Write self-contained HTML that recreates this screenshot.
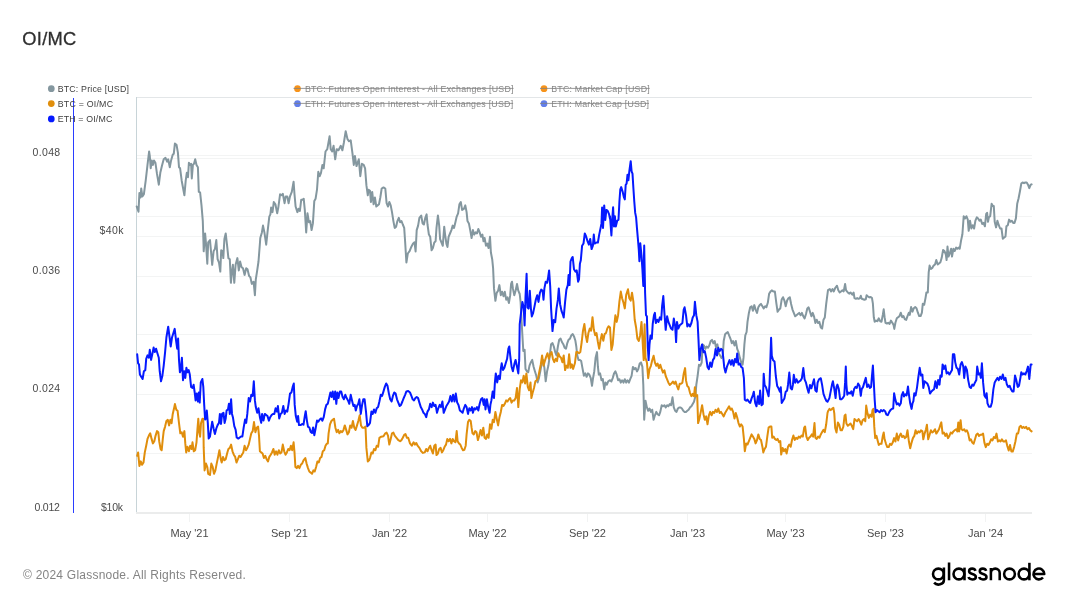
<!DOCTYPE html>
<html><head><meta charset="utf-8"><title>OI/MC</title>
<style>
html,body{margin:0;padding:0;background:#fff;}
body{width:1068px;height:601px;overflow:hidden;font-family:"Liberation Sans",sans-serif;}
svg{display:block;will-change:transform;}
svg text{font-family:"Liberation Sans",sans-serif;}
</style></head><body>
<svg width="1068" height="601" viewBox="0 0 1068 601">
<rect width="1068" height="601" fill="#fff"/>
<text x="22.3" y="44.6" font-size="18.3" letter-spacing="0.3" fill="#2f2f2f" stroke="#2f2f2f" stroke-width="0.3">OI/MC</text>
<g shape-rendering="crispEdges">
<line x1="137" y1="155.5" x2="1032" y2="155.5" stroke="#f3f4f4" stroke-width="1"/><line x1="137" y1="158" x2="1032" y2="158" stroke="#f3f4f4" stroke-width="1"/><line x1="137" y1="216.5" x2="1032" y2="216.5" stroke="#f3f4f4" stroke-width="1"/><line x1="137" y1="236.5" x2="1032" y2="236.5" stroke="#f3f4f4" stroke-width="1"/><line x1="137" y1="276.5" x2="1032" y2="276.5" stroke="#f3f4f4" stroke-width="1"/><line x1="137" y1="334.5" x2="1032" y2="334.5" stroke="#f3f4f4" stroke-width="1"/><line x1="137" y1="375.5" x2="1032" y2="375.5" stroke="#f3f4f4" stroke-width="1"/><line x1="137" y1="394.5" x2="1032" y2="394.5" stroke="#f3f4f4" stroke-width="1"/><line x1="137" y1="453.5" x2="1032" y2="453.5" stroke="#f3f4f4" stroke-width="1"/>
<line x1="136.5" y1="97.5" x2="1032" y2="97.5" stroke="#e3e6e8" stroke-width="1"/>
<line x1="136.5" y1="97" x2="136.5" y2="513" stroke="#c8d4d8" stroke-width="1"/>
<rect x="136" y="512" width="896" height="2" fill="#ebecec"/>
<line x1="189.0" y1="514" x2="189.0" y2="522" stroke="#f2f3f3" stroke-width="1"/><line x1="289.0" y1="514" x2="289.0" y2="522" stroke="#f2f3f3" stroke-width="1"/><line x1="389.0" y1="514" x2="389.0" y2="522" stroke="#f2f3f3" stroke-width="1"/><line x1="487.0" y1="514" x2="487.0" y2="522" stroke="#f2f3f3" stroke-width="1"/><line x1="587.0" y1="514" x2="587.0" y2="522" stroke="#f2f3f3" stroke-width="1"/><line x1="687.0" y1="514" x2="687.0" y2="522" stroke="#f2f3f3" stroke-width="1"/><line x1="785.0" y1="514" x2="785.0" y2="522" stroke="#f2f3f3" stroke-width="1"/><line x1="885.0" y1="514" x2="885.0" y2="522" stroke="#f2f3f3" stroke-width="1"/><line x1="985.0" y1="514" x2="985.0" y2="522" stroke="#f2f3f3" stroke-width="1"/>
<line x1="73.5" y1="98" x2="73.5" y2="513" stroke="#2a3eff" stroke-width="1"/>
</g>
<circle cx="51.3" cy="88.7" r="3.35" fill="#84979f"/><text x="57.7" y="91.80" font-size="8.8" textLength="71.2" lengthAdjust="spacing" fill="#404040">BTC: Price [USD]</text><circle cx="51.3" cy="103.6" r="3.35" fill="#e08e0c"/><text x="57.7" y="106.70" font-size="8.8" textLength="55.3" lengthAdjust="spacing" fill="#404040">BTC = OI/MC</text><circle cx="51.3" cy="118.9" r="3.35" fill="#0519ff"/><text x="57.7" y="122.00" font-size="8.8" textLength="54.6" lengthAdjust="spacing" fill="#404040">ETH = OI/MC</text><circle cx="297.5" cy="88.7" r="3.35" fill="#f7931a"/><text x="304.9" y="91.80" font-size="8.8" textLength="208.6" lengthAdjust="spacing" fill="#878787">BTC: Futures Open Interest - All Exchanges [USD]</text><line x1="293.5" y1="88.40" x2="513.5" y2="88.40" stroke="#808080" stroke-width="0.8"/><circle cx="297.5" cy="103.7" r="3.35" fill="#627eea"/><text x="304.9" y="106.80" font-size="8.8" textLength="208.2" lengthAdjust="spacing" fill="#878787">ETH: Futures Open Interest - All Exchanges [USD]</text><line x1="293.5" y1="103.40" x2="513.0999999999999" y2="103.40" stroke="#808080" stroke-width="0.8"/><circle cx="544" cy="88.7" r="3.35" fill="#f7931a"/><text x="551.2" y="91.80" font-size="8.8" textLength="98.5" lengthAdjust="spacing" fill="#878787">BTC: Market Cap [USD]</text><line x1="540" y1="88.40" x2="649.7" y2="88.40" stroke="#808080" stroke-width="0.8"/><circle cx="544" cy="103.7" r="3.35" fill="#627eea"/><text x="551.2" y="106.80" font-size="8.8" textLength="97.8" lengthAdjust="spacing" fill="#878787">ETH: Market Cap [USD]</text><line x1="540" y1="103.40" x2="649.0" y2="103.40" stroke="#808080" stroke-width="0.8"/>
<text x="32.6" y="155.8" font-size="10.5" textLength="27.6" lengthAdjust="spacing" fill="#4a4a4a">0.048</text><text x="32.6" y="274.0" font-size="10.5" textLength="27.6" lengthAdjust="spacing" fill="#4a4a4a">0.036</text><text x="32.6" y="392.4" font-size="10.5" textLength="27.6" lengthAdjust="spacing" fill="#4a4a4a">0.024</text><text x="34.6" y="510.7" font-size="10.5" textLength="25.3" lengthAdjust="spacing" fill="#4a4a4a">0.012</text><text x="99.4" y="234.4" font-size="10.5" textLength="24" lengthAdjust="spacing" fill="#4a4a4a">$40k</text><text x="100.9" y="510.7" font-size="10.5" textLength="22.2" lengthAdjust="spacing" fill="#4a4a4a">$10k</text>
<text x="189.5" y="536.8" text-anchor="middle" font-size="11" fill="#4a4a4a">May '21</text><text x="289.5" y="536.8" text-anchor="middle" font-size="11" fill="#4a4a4a">Sep '21</text><text x="389.5" y="536.8" text-anchor="middle" font-size="11" fill="#4a4a4a">Jan '22</text><text x="487.5" y="536.8" text-anchor="middle" font-size="11" fill="#4a4a4a">May '22</text><text x="587.5" y="536.8" text-anchor="middle" font-size="11" fill="#4a4a4a">Sep '22</text><text x="687.5" y="536.8" text-anchor="middle" font-size="11" fill="#4a4a4a">Jan '23</text><text x="785.5" y="536.8" text-anchor="middle" font-size="11" fill="#4a4a4a">May '23</text><text x="885.5" y="536.8" text-anchor="middle" font-size="11" fill="#4a4a4a">Sep '23</text><text x="985.5" y="536.8" text-anchor="middle" font-size="11" fill="#4a4a4a">Jan '24</text>
<g fill="none" stroke-linejoin="round" stroke-linecap="round" stroke-width="2">
<path stroke="#84979f" d="M136.7 206.5 L138.5 211.7 L139.4 193.0 L140.6 197.5 L141.2 188.5 L142.4 196.4 L143.9 194.2 L145.7 180.7 L147.5 164.9 L149.1 151.5 L149.8 156.0 L150.7 168.3 L151.8 160.4 L152.9 164.9 L154.0 160.4 L155.4 162.7 L157.0 173.9 L158.8 184.7 L160.3 172.8 L161.9 166.1 L163.7 159.3 L165.5 157.8 L167.1 161.6 L168.2 159.3 L169.8 167.2 L171.1 160.4 L172.7 154.8 L173.8 153.7 L174.9 143.6 L176.5 144.7 L177.9 152.6 L179.0 167.2 L180.1 168.3 L181.7 180.7 L184.4 195.3 L185.7 180.7 L186.8 172.8 L188.0 177.3 L188.9 162.7 L190.2 164.9 L191.1 163.8 L191.8 178.4 L192.9 164.9 L194.0 163.8 L195.2 159.3 L196.5 164.9 L197.9 167.2 L198.8 191.9 L200.1 192.4 L201.5 205.4 L202.8 221.1 L203.5 243.5 L203.7 251.3 L205.1 233.4 L206.0 243.5 L207.3 263.7 L208.2 242.4 L210.0 240.1 L211.3 254.7 L212.2 264.8 L213.6 251.3 L214.9 249.1 L216.3 240.1 L217.6 259.2 L219.0 262.6 L220.3 271.6 L221.2 250.2 L222.6 251.3 L223.3 258.1 L224.4 239.0 L225.7 233.4 L227.1 245.7 L228.4 258.1 L229.8 259.2 L230.9 282.8 L231.8 272.7 L232.9 264.8 L234.3 282.8 L235.6 264.8 L237.4 258.1 L238.8 270.4 L240.1 261.5 L241.5 267.1 L243.0 268.2 L244.6 274.9 L246.2 268.2 L247.5 269.3 L249.1 276.1 L250.4 277.2 L251.8 283.9 L253.6 281.7 L254.9 295.2 L255.8 279.4 L257.2 270.4 L258.5 261.5 L259.9 243.5 L260.3 238.0 L261.9 232.4 L263.0 225.6 L264.4 232.4 L266.2 244.7 L267.5 232.4 L269.3 216.6 L270.4 214.4 L271.1 207.6 L272.5 212.1 L273.8 202.0 L275.4 204.3 L277.2 213.3 L278.3 207.6 L280.1 194.2 L281.7 195.3 L282.8 193.7 L284.6 203.2 L285.7 196.4 L287.3 196.4 L288.6 203.2 L290.0 196.4 L291.8 191.9 L293.6 181.8 L294.5 194.2 L295.6 206.5 L297.4 212.1 L298.5 208.8 L299.9 211.0 L301.2 199.8 L302.6 199.8 L303.7 198.7 L304.8 209.9 L306.2 232.4 L307.5 213.3 L308.9 222.2 L310.2 221.1 L311.6 230.1 L312.9 223.4 L314.3 200.9 L315.6 198.7 L317.0 189.7 L318.3 171.7 L319.7 176.2 L321.0 172.8 L322.4 164.9 L323.7 168.3 L325.5 151.5 L327.3 149.2 L329.6 136.2 L330.7 149.2 L332.2 151.5 L333.6 145.8 L335.2 159.3 L336.7 149.2 L338.5 150.3 L340.8 145.8 L342.4 150.3 L343.9 142.5 L345.7 131.2 L347.5 139.1 L349.1 141.3 L350.7 140.2 L352.5 153.7 L353.8 164.9 L354.9 156.0 L356.5 166.1 L358.8 159.3 L360.3 176.2 L361.9 163.8 L363.7 164.9 L365.1 168.3 L366.4 185.2 L367.8 195.3 L368.6 189.7 L370.0 190.8 L370.9 202.0 L372.2 191.9 L373.6 204.3 L374.9 197.5 L376.3 206.5 L377.6 205.4 L379.0 204.3 L380.3 197.5 L381.7 188.5 L383.5 187.4 L385.3 188.5 L386.6 203.2 L388.0 206.5 L389.3 202.0 L390.7 205.4 L392.0 212.1 L393.4 221.1 L394.7 227.9 L396.1 226.7 L397.4 221.1 L398.8 217.8 L400.1 222.2 L401.5 221.1 L402.8 224.5 L404.2 227.9 L405.1 241.3 L406.4 262.5 L407.8 253.5 L409.6 251.2 L411.4 246.7 L413.1 243.4 L414.5 242.2 L415.6 251.5 L416.7 230.1 L418.1 225.6 L419.4 217.8 L421.2 215.5 L422.6 223.4 L423.9 224.5 L425.3 217.8 L426.6 214.4 L427.5 224.5 L428.9 234.6 L430.2 236.8 L431.6 250.3 L432.9 248.1 L434.3 242.5 L435.6 241.3 L436.5 227.9 L437.9 215.5 L439.2 225.6 L440.1 239.1 L441.5 242.5 L442.8 245.8 L444.2 226.7 L445.1 234.6 L446.4 243.6 L447.5 247.0 L448.6 236.8 L450.0 233.5 L451.4 230.1 L452.7 225.6 L454.0 227.9 L455.4 222.2 L456.7 216.6 L458.1 213.3 L459.4 204.3 L460.8 202.0 L462.1 209.9 L463.9 208.8 L465.3 205.4 L466.6 212.1 L467.5 221.1 L468.9 223.4 L470.2 230.1 L471.6 238.0 L472.9 230.1 L474.3 234.6 L475.6 232.4 L477.0 233.5 L478.3 229.0 L479.7 232.4 L481.0 236.8 L482.4 234.6 L483.5 241.3 L484.6 238.0 L486.0 245.8 L487.3 243.6 L488.6 248.1 L490.0 236.8 L490.9 252.5 L492.2 259.2 L493.1 268.2 L494.0 288.4 L495.4 300.8 L496.7 292.9 L498.1 290.7 L499.4 285.1 L500.8 295.2 L502.1 291.8 L503.5 296.3 L504.8 291.8 L506.2 299.7 L507.5 297.4 L508.9 303.0 L510.2 295.2 L511.1 283.9 L512.0 281.7 L512.9 288.4 L514.3 295.2 L515.6 290.7 L517.0 283.9 L518.3 290.7 L519.7 294.0 L520.6 301.9 L521.5 319.5 L522.4 335.2 L523.3 351.0 L524.6 349.8 L525.5 368.9 L526.9 371.2 L528.2 372.3 L529.5 365.6 L530.9 362.2 L532.2 359.9 L533.6 366.7 L534.9 371.2 L536.3 375.7 L537.6 382.4 L539.0 377.9 L540.3 371.2 L541.7 363.3 L543.0 359.9 L544.4 367.8 L545.7 381.3 L547.1 371.2 L548.4 365.6 L549.8 355.4 L551.1 344.2 L552.5 343.1 L553.8 346.5 L555.2 352.1 L556.5 355.4 L557.9 346.5 L559.2 339.7 L560.6 338.6 L561.9 342.0 L563.3 344.2 L564.6 347.6 L566.0 348.7 L567.3 343.1 L568.6 339.7 L570.0 338.6 L571.4 335.2 L572.7 334.1 L574.0 336.4 L575.4 340.8 L576.3 346.5 L577.2 355.4 L578.5 359.9 L579.9 359.9 L581.2 361.1 L582.6 368.9 L583.9 375.7 L585.3 373.4 L586.6 376.8 L588.0 373.4 L589.3 374.6 L590.7 377.9 L592.0 385.8 L592.9 379.0 L594.3 371.2 L595.6 357.7 L597.0 352.1 L597.9 366.7 L598.8 374.6 L600.1 373.4 L601.5 380.2 L602.8 379.0 L604.2 389.2 L605.5 382.4 L606.9 384.7 L608.2 381.3 L610.0 380.2 L611.4 381.5 L612.7 378.1 L614.0 373.6 L615.4 371.4 L616.7 374.7 L618.1 380.3 L619.4 379.2 L620.8 382.6 L622.1 380.3 L623.5 382.6 L624.8 379.2 L626.2 382.6 L627.5 380.3 L628.9 382.6 L630.2 379.2 L631.6 375.8 L632.9 366.9 L634.3 369.1 L635.6 368.0 L637.0 371.4 L638.3 369.1 L639.7 363.5 L641.0 362.4 L642.4 366.9 L643.3 384.9 L644.2 419.8 L645.5 400.7 L646.9 407.4 L648.2 410.8 L649.5 408.5 L650.9 411.9 L652.2 409.7 L653.6 419.8 L654.9 415.3 L656.3 411.9 L657.6 414.2 L659.0 415.3 L660.3 411.9 L661.7 405.2 L663.0 406.3 L664.4 405.2 L665.7 407.4 L667.1 405.2 L668.4 406.3 L669.8 404.0 L671.1 405.2 L672.5 397.3 L673.8 407.4 L675.2 410.8 L676.5 411.9 L677.9 408.5 L679.2 407.4 L680.6 407.4 L681.9 408.5 L683.3 410.8 L684.6 411.9 L686.0 411.9 L687.3 410.8 L688.6 409.7 L690.0 407.4 L691.4 406.3 L692.7 404.0 L694.0 401.8 L695.4 396.2 L696.3 384.9 L697.6 376.0 L699.0 364.7 L700.3 365.8 L701.7 362.5 L702.6 344.4 L703.9 345.5 L705.3 348.9 L706.6 346.6 L708.0 347.8 L709.3 345.5 L710.7 341.0 L712.0 339.9 L713.4 343.3 L714.7 341.0 L716.1 347.8 L717.4 344.4 L718.8 353.4 L720.1 355.6 L721.5 357.9 L722.8 355.6 L723.7 341.0 L725.1 334.3 L726.4 333.1 L727.8 332.0 L729.1 335.4 L730.5 338.8 L731.8 343.3 L733.1 341.0 L734.5 345.5 L735.8 341.0 L737.2 348.9 L738.5 352.2 L739.9 357.9 L741.2 362.4 L742.6 364.6 L743.5 357.9 L744.4 344.4 L745.3 335.4 L746.6 332.0 L747.5 321.9 L748.9 312.9 L750.2 307.3 L751.6 306.2 L752.9 310.7 L754.3 305.1 L755.6 309.6 L757.0 312.9 L758.3 307.3 L759.7 305.1 L761.0 303.9 L762.4 306.2 L763.7 308.4 L765.1 306.2 L766.4 307.3 L767.8 302.8 L769.1 293.8 L770.5 291.6 L771.8 290.4 L773.6 291.6 L774.9 291.6 L776.3 302.8 L777.6 311.8 L779.0 309.6 L780.3 308.4 L781.7 299.4 L783.0 297.2 L784.4 300.6 L785.7 306.2 L787.1 300.6 L788.4 298.3 L789.8 297.2 L791.1 303.9 L792.5 309.6 L793.8 312.9 L795.2 316.3 L796.5 315.2 L797.9 314.0 L799.2 312.9 L800.6 315.2 L801.9 312.9 L803.3 316.3 L804.6 318.5 L806.0 314.0 L807.3 308.4 L808.6 307.3 L810.0 311.8 L811.4 316.3 L812.7 312.9 L814.0 316.3 L815.4 323.0 L816.7 319.7 L818.1 323.0 L819.4 321.9 L820.8 327.5 L822.1 328.6 L823.5 319.7 L824.8 317.4 L826.2 303.9 L827.5 293.8 L828.0 290.2 L829.8 289.1 L831.1 291.4 L832.5 289.1 L833.8 291.4 L835.2 288.0 L837.0 285.7 L838.3 290.2 L839.7 292.5 L841.0 291.4 L842.4 290.2 L843.7 291.4 L845.1 283.9 L846.0 290.2 L847.8 292.5 L849.1 293.6 L850.5 292.5 L852.3 294.7 L853.6 292.5 L854.5 298.1 L855.9 298.8 L857.2 298.1 L858.6 298.8 L859.9 298.1 L860.8 295.8 L861.7 298.8 L863.1 299.2 L864.4 299.7 L865.8 299.2 L866.6 295.2 L868.0 296.5 L869.4 297.4 L870.7 297.0 L872.0 298.1 L872.9 303.7 L873.8 317.2 L874.7 321.7 L876.1 320.6 L877.4 321.2 L878.8 318.3 L880.1 321.2 L881.5 321.7 L882.8 314.9 L883.7 309.3 L884.6 317.2 L885.5 322.8 L886.9 323.5 L888.2 322.8 L889.6 323.9 L890.9 320.6 L892.3 322.8 L893.6 325.1 L894.3 328.9 L895.4 322.8 L896.8 318.3 L898.1 317.2 L899.5 316.1 L900.8 312.7 L902.2 317.2 L903.5 316.1 L904.9 319.4 L906.2 319.9 L907.5 316.1 L908.9 312.7 L909.8 314.9 L911.1 307.1 L912.5 311.6 L913.8 308.2 L915.2 307.1 L916.5 308.2 L917.9 312.7 L919.2 316.1 L920.6 316.1 L921.9 312.7 L922.8 303.7 L924.2 304.8 L925.5 298.1 L926.4 292.5 L927.8 292.5 L928.7 272.4 L929.6 265.6 L930.9 269.0 L932.3 267.9 L933.6 265.6 L935.0 264.5 L936.3 260.0 L937.7 264.5 L939.0 263.4 L940.4 262.2 L941.7 257.8 L943.1 249.9 L944.4 251.0 L945.8 254.4 L946.6 260.0 L947.5 246.5 L948.5 256.6 L949.8 253.3 L951.1 248.8 L952.0 256.6 L953.4 248.8 L954.7 251.0 L956.1 247.6 L957.4 248.8 L958.8 247.6 L959.7 248.8 L961.0 240.9 L962.4 234.2 L963.7 216.2 L965.1 218.4 L966.4 216.2 L967.8 219.6 L968.7 230.8 L970.0 220.7 L971.4 228.5 L972.7 225.2 L974.1 228.5 L975.4 220.7 L976.8 217.3 L978.1 218.4 L979.5 220.7 L980.8 219.6 L982.2 224.0 L983.5 222.9 L984.9 226.3 L986.2 213.9 L987.1 212.8 L988.0 221.8 L988.9 217.3 L990.2 216.2 L991.6 203.8 L992.9 206.1 L993.8 206.1 L994.7 221.8 L996.1 227.4 L997.4 220.7 L998.8 225.2 L1000.1 228.5 L1001.5 228.5 L1002.8 238.7 L1004.2 237.5 L1005.5 236.4 L1006.4 226.3 L1007.8 225.2 L1009.1 219.6 L1010.5 221.8 L1011.8 220.7 L1013.2 222.9 L1014.5 222.9 L1015.9 218.4 L1017.2 203.8 L1018.6 198.2 L1019.9 191.5 L1021.3 183.6 L1022.6 182.5 L1024.0 183.2 L1025.3 182.5 L1026.7 182.5 L1028.0 184.7 L1029.3 188.1 L1030.7 184.7 L1031.6 184.3"/>
<path stroke="#e08e0c" d="M137.2 455.8 L138.1 452.4 L139.4 465.9 L140.8 461.4 L142.1 464.8 L143.5 462.5 L144.8 452.4 L146.2 445.7 L147.5 438.9 L148.9 435.6 L150.2 433.3 L151.6 438.9 L152.9 443.4 L154.3 441.2 L155.6 435.6 L157.0 431.1 L158.3 432.2 L159.2 441.2 L160.6 449.0 L161.7 450.2 L162.8 438.9 L163.7 431.1 L165.1 426.6 L166.4 421.0 L167.8 419.8 L169.1 425.4 L170.4 419.8 L171.6 423.2 L172.7 414.2 L174.0 408.6 L174.9 404.1 L176.3 409.7 L177.6 410.8 L179.0 423.2 L180.3 433.3 L181.7 432.2 L183.0 436.7 L184.4 431.1 L185.3 443.4 L186.2 452.4 L187.5 446.8 L188.9 451.3 L190.2 445.7 L191.6 449.0 L192.5 442.3 L193.8 451.3 L195.2 450.2 L196.5 442.3 L197.4 429.9 L198.3 418.7 L199.2 432.2 L200.1 436.7 L201.0 423.2 L202.4 418.7 L203.3 418.7 L203.7 447.9 L204.6 470.4 L206.0 463.6 L207.3 467.0 L208.2 473.8 L210.0 474.9 L211.3 463.6 L212.7 467.0 L214.0 473.8 L215.4 470.4 L216.7 463.6 L218.1 456.9 L219.4 450.2 L220.8 459.2 L221.7 462.5 L223.0 456.9 L224.4 460.3 L225.7 459.2 L227.1 453.5 L228.4 449.0 L229.8 447.9 L231.1 444.6 L232.5 451.3 L233.8 454.7 L235.2 456.9 L236.5 462.5 L237.9 459.2 L239.2 455.8 L240.6 456.9 L241.9 454.7 L243.3 452.4 L244.6 445.7 L246.0 450.2 L247.3 447.9 L248.7 444.6 L250.0 438.9 L251.3 433.3 L252.7 431.1 L254.0 422.1 L255.4 432.2 L256.7 427.7 L258.1 426.6 L259.0 435.6 L259.9 451.3 L261.2 452.4 L262.6 453.5 L263.9 458.0 L265.3 455.8 L266.6 459.2 L268.0 461.4 L269.3 456.9 L270.7 454.7 L272.0 452.4 L273.4 449.0 L274.7 454.7 L276.1 451.3 L277.4 454.7 L278.8 450.2 L280.1 453.5 L281.5 452.4 L282.8 444.6 L284.2 451.3 L285.5 454.7 L286.9 452.4 L288.2 449.0 L289.6 450.2 L290.9 445.7 L292.2 450.2 L293.6 442.3 L294.5 452.4 L295.4 467.0 L296.7 468.1 L298.1 465.9 L299.4 468.1 L300.8 464.8 L302.1 463.6 L303.5 460.3 L305.3 458.0 L306.6 463.6 L308.0 468.1 L309.3 471.5 L310.7 472.6 L312.0 473.8 L313.4 470.4 L314.7 471.5 L316.1 467.0 L317.4 461.4 L318.8 462.5 L320.1 458.0 L321.5 456.9 L322.8 451.3 L324.2 450.2 L325.5 445.7 L326.9 443.4 L327.8 443.4 L328.6 433.3 L330.0 424.3 L331.4 421.0 L332.7 419.8 L334.0 418.7 L335.4 427.7 L336.7 432.2 L338.1 429.9 L339.4 433.3 L340.8 431.1 L342.1 432.2 L343.5 429.9 L344.8 425.4 L346.2 429.9 L347.5 434.4 L348.9 432.2 L350.2 425.4 L351.6 427.7 L352.9 421.0 L354.3 427.7 L355.6 429.9 L357.0 425.4 L358.3 421.0 L359.7 415.3 L361.0 425.4 L362.4 427.7 L364.2 427.7 L365.5 426.6 L366.4 447.9 L367.8 461.4 L369.1 460.3 L370.0 458.0 L371.4 452.4 L372.7 453.5 L374.0 449.0 L375.4 450.2 L376.7 445.7 L378.1 446.8 L379.4 437.8 L381.2 436.7 L383.5 436.2 L385.3 433.3 L386.6 432.6 L388.0 435.6 L389.3 444.6 L390.7 438.9 L392.0 433.3 L393.4 432.6 L394.7 435.6 L396.5 437.8 L398.3 440.1 L400.1 441.2 L401.5 440.1 L402.8 437.8 L404.2 434.9 L405.5 434.0 L406.9 437.8 L408.2 437.8 L410.0 443.4 L411.8 445.7 L413.6 442.3 L414.9 444.6 L416.3 443.0 L417.6 445.7 L419.4 447.9 L421.2 451.3 L423.0 452.9 L424.8 452.4 L426.2 449.0 L427.5 451.3 L428.9 447.9 L430.2 445.7 L431.6 450.2 L432.9 453.5 L434.3 445.7 L435.6 444.6 L436.5 455.1 L437.9 453.5 L439.2 449.0 L440.6 447.9 L441.9 452.4 L443.3 450.2 L444.6 446.8 L446.0 444.6 L447.3 438.9 L448.6 441.2 L450.0 438.9 L451.4 443.4 L452.7 438.9 L454.0 441.2 L455.4 442.3 L456.7 431.1 L457.6 441.2 L459.0 443.4 L460.3 444.6 L461.7 447.9 L463.0 450.2 L464.4 449.7 L465.7 445.7 L466.6 434.4 L468.0 422.1 L469.3 419.8 L470.7 421.0 L471.6 427.7 L472.5 433.3 L473.8 434.4 L475.2 431.1 L476.5 432.2 L477.9 440.1 L479.2 435.6 L480.6 429.9 L481.9 435.6 L483.3 427.7 L484.6 437.8 L486.0 438.9 L487.3 434.4 L488.6 437.8 L490.0 424.3 L491.4 428.8 L492.7 419.8 L494.0 422.1 L495.4 412.0 L496.7 418.7 L498.1 425.4 L499.4 417.6 L500.8 412.0 L502.1 404.9 L503.5 406.0 L504.8 403.8 L506.2 400.4 L507.5 401.5 L508.9 399.3 L510.2 398.1 L511.6 402.6 L512.9 400.4 L514.3 400.4 L515.6 398.1 L517.0 388.0 L518.3 407.1 L519.7 389.2 L521.0 380.2 L522.4 382.4 L523.7 375.7 L525.1 383.5 L526.4 373.4 L527.8 386.9 L529.1 390.3 L530.5 382.4 L531.4 398.1 L532.7 392.5 L534.0 388.0 L535.4 381.3 L536.7 380.2 L538.1 377.9 L539.4 371.2 L540.8 364.4 L542.1 355.4 L543.5 365.6 L544.8 361.1 L546.2 356.6 L547.5 353.2 L548.9 358.8 L550.2 354.3 L551.6 352.1 L552.9 358.8 L554.3 362.2 L555.6 358.8 L557.0 361.1 L558.3 353.2 L559.7 356.6 L561.0 357.7 L562.4 362.2 L563.7 355.4 L565.1 370.1 L566.4 365.6 L567.8 367.8 L569.1 354.3 L570.5 367.8 L571.8 364.4 L573.1 368.9 L574.9 363.3 L576.3 352.1 L577.6 352.1 L579.0 353.2 L580.3 352.1 L581.7 342.0 L583.0 330.7 L584.4 324.0 L585.7 335.2 L587.1 342.0 L588.4 333.0 L589.8 328.5 L591.1 330.7 L592.5 317.2 L593.8 329.6 L595.2 335.2 L596.5 333.0 L597.9 342.0 L599.2 348.7 L600.6 339.7 L601.9 334.1 L603.3 340.8 L604.6 334.1 L606.0 333.0 L607.3 328.5 L608.6 326.2 L610.0 327.4 L611.4 350.0 L612.7 344.4 L614.0 328.6 L615.4 315.2 L616.7 321.9 L618.1 315.2 L619.4 301.7 L620.8 291.6 L622.1 298.3 L623.5 302.8 L624.8 308.4 L626.2 294.9 L628.0 289.3 L629.3 298.3 L630.7 300.6 L632.0 292.7 L633.4 301.7 L634.7 319.7 L636.1 327.5 L637.4 338.8 L638.8 341.0 L640.1 335.4 L641.5 321.9 L642.8 344.4 L643.7 360.1 L644.6 324.2 L645.5 357.9 L646.9 362.4 L648.2 378.2 L649.5 369.2 L650.9 365.8 L652.2 360.2 L653.6 355.7 L654.9 362.5 L656.3 365.8 L657.6 363.6 L659.0 368.1 L660.3 364.7 L661.7 369.2 L663.0 372.6 L664.4 370.3 L665.7 376.0 L667.1 379.3 L668.4 382.7 L669.8 384.9 L671.1 383.8 L672.9 381.6 L674.3 383.8 L675.6 381.6 L677.0 386.1 L678.3 389.4 L679.7 383.8 L681.0 383.8 L682.4 382.7 L683.7 373.7 L685.1 368.1 L686.0 380.4 L687.3 386.1 L688.6 387.2 L690.0 392.8 L691.4 396.2 L692.7 393.9 L694.0 396.2 L694.9 387.2 L695.8 396.2 L697.2 395.1 L698.1 423.1 L699.4 418.6 L700.8 411.9 L702.1 405.2 L703.5 414.2 L704.8 419.8 L706.2 416.4 L707.5 424.3 L708.9 415.3 L710.2 411.9 L711.6 415.3 L712.9 411.9 L714.3 413.0 L715.6 409.7 L717.0 411.9 L718.3 408.5 L719.7 413.0 L721.0 411.9 L722.4 414.2 L723.7 416.4 L725.1 413.0 L726.4 410.8 L727.8 408.5 L729.1 406.3 L730.5 409.7 L731.8 408.5 L733.1 411.9 L734.5 418.6 L735.8 413.0 L737.2 417.5 L738.5 423.1 L739.9 426.5 L741.2 424.3 L742.6 426.5 L743.9 438.9 L744.8 451.2 L746.2 443.4 L747.5 444.5 L748.9 441.1 L750.2 437.8 L751.6 434.4 L752.9 436.6 L754.3 438.9 L755.6 443.4 L757.0 440.0 L758.3 434.4 L759.7 438.9 L761.0 440.0 L762.4 446.7 L763.3 452.4 L764.6 449.0 L766.0 446.7 L767.3 436.6 L768.6 427.6 L770.0 426.5 L771.4 426.5 L772.2 437.8 L773.6 436.6 L774.9 438.9 L776.3 440.0 L777.6 438.9 L779.0 442.2 L780.3 441.1 L781.2 454.6 L782.6 447.9 L783.9 451.2 L785.3 449.0 L786.6 453.5 L788.0 446.7 L789.3 444.5 L790.7 446.7 L792.0 440.0 L793.4 435.5 L794.7 440.0 L796.1 437.8 L797.4 438.9 L798.8 436.6 L800.1 437.8 L801.5 435.5 L802.8 436.6 L804.2 427.6 L805.1 426.5 L806.4 436.6 L807.8 440.0 L809.1 437.8 L810.5 436.6 L811.8 434.4 L813.1 436.6 L814.5 423.1 L815.4 437.8 L816.7 438.9 L818.1 436.6 L819.4 437.8 L820.8 434.4 L822.1 432.1 L823.5 429.9 L824.8 432.1 L826.2 424.3 L827.5 413.0 L828.0 411.2 L829.4 408.9 L830.7 410.1 L832.0 408.9 L833.4 407.8 L834.3 413.4 L835.2 428.0 L836.5 432.5 L837.9 422.4 L839.2 424.7 L840.6 430.3 L841.9 430.3 L843.3 426.9 L844.6 415.7 L845.5 414.6 L846.4 423.5 L847.8 425.8 L849.1 424.7 L850.5 423.5 L851.8 425.8 L853.2 429.2 L854.5 419.0 L855.9 420.2 L857.2 421.3 L858.6 419.0 L859.9 421.3 L861.3 424.7 L862.6 420.2 L864.0 419.0 L865.3 421.3 L866.2 405.6 L867.5 413.4 L868.9 417.9 L870.2 414.6 L871.6 416.8 L872.5 410.1 L873.4 408.9 L874.3 426.9 L875.2 438.1 L876.5 435.9 L877.9 441.5 L878.8 444.9 L880.1 443.8 L881.5 443.8 L882.8 435.9 L883.7 432.5 L884.6 439.3 L886.0 443.8 L887.3 447.1 L888.7 447.1 L890.0 443.8 L891.4 444.9 L892.7 442.6 L894.1 438.1 L895.4 441.5 L896.8 433.6 L898.1 440.4 L899.5 435.9 L900.8 433.6 L902.2 437.0 L903.5 435.9 L904.9 438.1 L906.2 437.0 L907.5 430.3 L908.9 441.5 L910.2 448.3 L911.6 442.6 L912.9 438.1 L914.3 435.9 L915.6 430.3 L917.0 433.6 L918.3 431.4 L919.7 432.5 L921.0 430.3 L922.4 431.4 L923.3 439.3 L924.6 433.6 L926.0 429.2 L926.9 424.7 L928.2 439.3 L929.6 434.8 L930.9 430.3 L932.3 432.5 L933.6 431.4 L935.0 429.2 L936.3 433.6 L937.7 431.4 L939.0 429.2 L940.4 424.7 L941.3 422.4 L942.6 433.6 L944.0 432.5 L945.3 435.9 L946.6 433.6 L948.0 438.1 L949.4 435.9 L950.7 432.5 L952.0 433.6 L953.4 431.4 L954.7 430.3 L956.1 429.2 L957.4 431.4 L958.3 422.4 L959.2 431.4 L960.6 420.2 L961.5 429.2 L962.8 430.3 L964.2 429.2 L965.5 431.4 L966.9 430.3 L968.2 433.6 L969.6 440.4 L970.9 439.3 L972.3 442.6 L973.6 443.8 L975.0 439.3 L976.3 434.8 L977.7 433.6 L979.0 435.9 L980.4 434.8 L981.7 434.8 L983.1 433.6 L984.4 442.6 L985.8 447.1 L987.1 443.8 L988.5 444.9 L989.8 442.6 L991.1 439.3 L992.5 440.4 L993.8 437.0 L995.2 438.1 L996.5 433.6 L997.9 441.5 L999.2 440.4 L1000.6 441.5 L1001.9 439.3 L1003.3 441.5 L1004.6 441.5 L1006.0 440.4 L1007.3 446.0 L1008.7 450.5 L1010.0 444.9 L1011.4 451.6 L1012.7 451.6 L1014.1 447.1 L1015.4 441.5 L1016.8 433.6 L1018.1 433.6 L1019.5 426.9 L1020.8 425.8 L1022.2 428.0 L1023.5 426.9 L1024.8 428.0 L1026.2 426.9 L1027.5 429.2 L1028.9 428.0 L1030.2 430.3 L1031.6 431.4"/>
<path stroke="#0519ff" d="M137.2 354.3 L138.1 363.3 L139.0 364.4 L139.9 374.6 L141.2 376.8 L142.6 379.0 L143.9 371.2 L145.3 370.1 L146.2 358.8 L147.5 355.4 L148.9 357.7 L149.8 349.8 L151.1 359.9 L152.5 353.2 L153.6 347.6 L154.7 352.1 L156.1 348.7 L157.4 353.2 L158.8 357.7 L159.7 371.2 L161.0 381.3 L162.4 375.7 L163.7 365.6 L165.1 352.1 L166.4 337.5 L168.2 326.7 L169.6 337.5 L170.7 346.5 L172.0 337.5 L173.4 333.0 L174.7 328.9 L176.1 340.8 L177.2 348.7 L178.1 338.6 L179.0 359.9 L179.9 372.3 L180.8 370.1 L181.9 357.7 L183.0 380.2 L184.2 371.2 L185.3 377.9 L186.4 367.8 L187.5 372.3 L188.7 370.1 L189.8 374.6 L191.1 386.9 L192.5 388.0 L193.6 384.7 L194.7 392.5 L195.6 400.4 L196.7 393.6 L197.9 401.5 L198.8 392.5 L199.7 402.6 L200.8 382.4 L202.4 379.0 L203.3 386.9 L204.2 404.9 L205.1 419.5 L206.0 418.4 L206.8 410.5 L207.8 422.9 L208.7 438.6 L210.0 436.4 L211.3 427.4 L212.2 421.7 L213.6 428.5 L214.9 434.1 L216.3 428.5 L217.6 425.1 L219.0 422.9 L219.9 413.9 L221.0 424.0 L222.1 413.9 L223.5 412.8 L224.6 422.9 L225.7 418.4 L226.6 410.5 L228.0 409.4 L228.9 403.8 L229.8 413.9 L231.1 399.3 L232.0 413.9 L232.9 417.2 L234.3 426.2 L235.6 429.6 L236.7 437.5 L238.3 438.6 L239.7 437.5 L241.0 436.4 L242.4 436.4 L243.7 427.4 L245.1 419.5 L246.2 422.9 L247.3 413.9 L248.7 398.1 L250.0 401.5 L251.3 394.8 L252.7 395.9 L253.8 381.3 L254.9 400.4 L255.8 407.1 L257.2 412.8 L258.5 408.3 L259.9 417.2 L261.2 422.9 L262.1 413.9 L263.5 420.6 L264.8 413.9 L266.2 415.0 L267.5 416.1 L268.9 420.6 L270.2 417.2 L271.6 415.0 L272.9 413.9 L274.3 413.9 L275.6 408.3 L277.0 411.6 L277.9 406.0 L279.2 418.4 L280.6 413.9 L281.9 412.8 L283.3 406.0 L284.6 413.9 L286.0 410.5 L287.3 411.6 L288.6 403.8 L290.0 393.6 L291.4 392.5 L292.7 386.9 L293.8 383.5 L294.7 404.9 L295.8 416.1 L297.2 421.7 L298.1 416.1 L299.0 425.1 L300.8 425.1 L302.1 424.0 L303.5 424.7 L304.8 416.1 L305.7 411.2 L306.9 420.6 L308.0 426.9 L309.3 427.4 L310.7 431.9 L312.0 433.0 L313.1 427.4 L314.3 435.2 L315.6 428.5 L317.0 420.6 L318.3 421.7 L319.7 419.5 L321.0 418.4 L322.4 420.6 L323.7 417.2 L325.1 409.4 L326.4 404.9 L327.8 403.8 L329.1 398.1 L330.4 392.5 L331.6 397.0 L332.7 391.4 L334.0 399.3 L335.2 391.4 L336.3 403.8 L337.4 392.5 L338.5 398.1 L339.9 391.4 L341.2 391.4 L342.6 397.0 L343.9 399.3 L345.3 394.8 L346.6 398.1 L348.0 400.4 L349.3 403.8 L350.7 394.8 L352.0 400.4 L353.4 406.0 L354.7 404.9 L355.8 410.5 L357.0 406.0 L358.3 403.8 L359.4 399.3 L360.8 413.9 L362.1 404.9 L363.3 399.3 L364.6 399.3 L366.0 411.6 L367.3 426.2 L368.6 425.1 L370.0 422.9 L371.4 411.6 L372.7 413.9 L374.0 409.4 L375.4 412.8 L376.7 408.3 L378.1 407.1 L379.4 401.5 L380.8 394.8 L382.1 395.9 L383.5 391.4 L384.8 386.9 L386.2 383.5 L387.5 385.8 L388.9 393.6 L390.2 399.3 L391.6 401.5 L392.9 395.9 L394.3 392.5 L395.6 393.6 L397.0 399.3 L398.3 402.6 L399.7 406.0 L401.0 404.9 L402.4 401.5 L403.7 398.1 L405.1 394.8 L406.4 391.4 L408.2 391.0 L410.0 392.5 L411.4 395.9 L412.7 399.3 L414.0 400.4 L415.4 398.1 L416.7 397.0 L418.1 398.1 L419.4 402.6 L420.8 407.1 L422.1 409.4 L423.5 412.8 L424.8 413.9 L426.2 417.2 L427.5 411.6 L428.9 409.4 L430.2 403.8 L431.6 407.1 L432.9 402.6 L434.3 406.0 L435.6 404.9 L437.0 412.8 L438.3 408.3 L439.7 404.9 L441.0 407.1 L442.4 401.5 L443.7 412.8 L445.1 409.4 L446.4 406.0 L447.8 403.8 L449.1 401.5 L450.4 395.9 L451.8 401.5 L453.1 394.8 L454.5 401.5 L455.8 393.6 L457.2 402.6 L458.5 404.9 L459.9 410.5 L461.2 411.6 L462.6 412.8 L463.9 408.3 L465.3 404.9 L466.6 407.1 L468.0 413.9 L469.3 408.3 L470.7 410.5 L472.0 407.1 L472.9 412.8 L474.3 408.3 L475.6 409.4 L477.0 407.1 L478.3 410.5 L479.7 403.8 L481.0 399.3 L482.4 398.1 L483.7 404.9 L484.6 399.3 L485.5 409.4 L486.9 399.3 L488.2 407.1 L489.6 412.8 L490.4 404.9 L491.4 400.4 L492.7 391.4 L494.0 398.1 L494.9 382.4 L495.8 373.4 L497.2 382.4 L498.5 375.7 L499.9 379.0 L500.8 368.9 L501.7 363.3 L503.0 370.1 L504.4 367.8 L505.7 363.3 L507.1 358.8 L508.4 348.7 L509.3 346.5 L510.2 355.4 L511.6 366.7 L512.9 371.2 L514.3 364.4 L515.6 359.9 L517.0 366.7 L518.3 373.4 L519.2 359.9 L519.7 324.4 L521.0 313.1 L522.4 301.9 L523.7 307.5 L524.6 325.5 L525.5 297.4 L526.6 273.8 L527.5 307.5 L528.6 308.6 L529.8 290.7 L530.9 308.6 L531.8 316.5 L533.1 313.1 L534.5 306.4 L535.8 299.7 L537.2 295.2 L538.5 301.9 L539.9 292.9 L541.2 289.6 L542.6 290.7 L543.5 299.7 L544.4 288.4 L545.7 281.7 L547.1 282.8 L548.0 278.3 L549.1 270.4 L550.2 286.2 L551.1 308.6 L552.5 331.1 L553.8 319.9 L555.2 322.1 L556.5 308.6 L557.9 299.7 L558.8 288.4 L560.1 304.2 L561.5 310.9 L562.8 314.3 L563.7 317.6 L565.1 301.9 L566.4 289.6 L567.8 285.1 L568.6 274.9 L569.5 285.1 L570.5 261.5 L571.8 258.1 L572.7 257.0 L574.0 269.3 L575.4 271.6 L576.7 270.4 L578.1 281.7 L579.0 279.4 L579.9 263.7 L580.8 260.3 L582.1 245.7 L583.5 243.5 L584.8 233.4 L586.2 236.7 L587.5 241.2 L588.9 244.6 L590.2 239.0 L591.6 249.1 L592.9 245.7 L593.8 234.6 L594.7 243.6 L596.5 242.5 L597.9 242.5 L599.2 234.6 L600.6 227.9 L601.5 223.4 L602.1 207.6 L603.0 227.9 L604.2 205.4 L605.3 220.0 L606.4 209.9 L607.8 211.0 L609.1 214.4 L610.0 218.9 L610.0 216.3 L611.4 235.4 L612.2 219.7 L613.1 207.3 L614.0 226.4 L614.9 216.3 L615.8 226.4 L617.2 220.8 L618.5 219.7 L619.4 201.7 L620.3 189.3 L621.2 187.1 L622.6 191.6 L623.9 197.2 L624.8 199.4 L625.7 184.8 L626.6 183.7 L627.5 174.7 L628.4 180.3 L629.3 171.3 L630.7 161.2 L631.6 171.3 L632.5 173.6 L633.4 188.2 L634.3 201.7 L635.2 212.9 L636.1 217.4 L637.0 228.7 L637.9 238.8 L638.8 250.0 L639.4 261.2 L640.3 243.3 L641.5 255.6 L642.4 269.1 L643.3 286.0 L644.2 245.5 L645.1 292.7 L646.0 315.2 L646.9 316.3 L647.8 346.6 L648.6 360.1 L649.5 344.4 L650.5 335.4 L651.8 338.8 L652.7 324.2 L654.0 315.2 L654.9 312.9 L655.8 323.0 L657.2 319.7 L658.5 321.9 L659.9 317.4 L661.2 319.7 L662.1 306.2 L663.3 296.1 L664.4 312.9 L665.7 329.8 L667.1 316.3 L668.4 321.9 L669.8 325.3 L671.1 328.6 L672.5 329.8 L673.8 318.5 L675.2 326.4 L676.1 342.1 L677.0 321.9 L678.3 328.6 L679.7 325.3 L681.0 324.2 L682.4 323.0 L683.7 309.6 L684.6 307.3 L686.0 315.2 L687.3 326.4 L688.6 324.2 L690.0 326.4 L691.4 323.0 L692.7 317.4 L694.0 315.2 L694.9 301.7 L696.3 315.2 L697.6 321.9 L698.5 339.9 L699.4 360.1 L700.8 348.9 L702.1 344.4 L703.5 352.2 L704.8 351.1 L706.2 357.9 L707.5 366.9 L708.9 369.1 L710.2 362.4 L711.6 366.9 L712.9 360.1 L714.3 357.9 L715.6 348.9 L717.0 355.6 L718.3 347.8 L719.7 351.1 L721.0 348.9 L722.4 350.0 L723.3 357.9 L724.2 366.9 L725.5 372.5 L726.9 366.9 L728.2 363.5 L729.5 360.1 L730.9 364.6 L732.2 360.1 L733.6 365.7 L734.9 359.0 L736.3 362.4 L737.2 353.4 L738.5 364.6 L739.9 363.5 L741.2 366.9 L742.6 368.0 L743.9 378.2 L744.8 399.6 L746.2 400.7 L747.5 399.6 L748.9 401.8 L750.2 402.9 L751.6 398.4 L752.9 395.1 L753.8 391.7 L755.2 402.9 L756.5 406.3 L757.9 396.2 L759.2 404.0 L760.1 390.6 L761.5 405.2 L762.8 404.0 L763.7 373.7 L764.6 384.9 L766.0 387.2 L767.3 391.7 L768.6 396.2 L769.5 384.9 L770.5 355.7 L771.1 337.8 L771.8 355.7 L773.1 360.2 L774.5 361.4 L775.8 376.0 L777.2 386.1 L778.5 388.3 L779.9 391.7 L780.8 387.2 L781.7 402.9 L783.0 400.7 L784.4 398.4 L785.7 391.7 L787.1 390.6 L788.0 384.9 L789.3 372.6 L790.7 388.3 L792.0 389.4 L792.9 384.9 L793.8 374.8 L795.2 382.7 L796.5 379.3 L797.9 382.7 L799.2 381.6 L800.6 380.4 L801.9 378.2 L803.3 368.1 L804.6 379.3 L806.0 382.7 L807.3 388.3 L808.6 392.8 L810.0 384.9 L811.4 388.3 L812.7 383.8 L814.0 379.3 L815.4 390.6 L816.7 391.7 L817.6 382.7 L819.0 379.3 L820.8 378.2 L822.1 384.9 L823.5 393.9 L824.8 397.3 L826.2 400.7 L827.5 401.8 L829.4 398.1 L830.7 391.4 L832.0 384.6 L832.9 381.2 L834.3 389.1 L835.6 398.1 L836.5 386.9 L837.4 384.6 L838.8 389.1 L840.1 399.2 L841.5 399.2 L842.8 398.1 L844.2 395.8 L845.1 382.4 L845.8 366.6 L846.4 384.6 L847.3 394.7 L848.7 392.5 L850.0 393.6 L851.4 391.4 L852.7 395.8 L854.1 389.1 L855.4 386.9 L856.8 388.0 L858.1 383.5 L859.5 385.7 L860.8 395.8 L861.7 389.1 L863.1 386.9 L864.4 382.4 L865.8 377.9 L867.1 386.9 L868.5 384.6 L869.8 388.0 L871.1 386.9 L872.0 375.6 L872.9 365.5 L873.8 382.4 L874.7 399.9 L875.6 412.3 L877.0 410.1 L878.3 411.2 L879.7 412.3 L881.0 410.1 L882.4 411.2 L883.7 410.1 L885.1 411.2 L886.4 414.6 L887.8 415.2 L889.1 412.3 L890.5 410.1 L891.8 408.9 L893.2 408.5 L894.1 393.2 L895.4 399.9 L896.8 404.4 L898.1 403.3 L899.5 405.6 L900.8 403.3 L901.7 395.4 L903.1 392.1 L904.0 396.6 L905.3 394.3 L906.6 395.4 L908.0 386.5 L908.9 394.3 L910.2 403.3 L911.6 408.9 L912.5 403.3 L913.4 401.1 L914.3 393.2 L915.6 395.4 L917.0 387.6 L918.3 377.5 L919.7 367.8 L921.0 375.6 L922.4 374.5 L923.3 388.0 L924.6 381.2 L926.0 382.4 L927.3 383.5 L928.7 386.9 L930.0 393.6 L931.4 391.4 L932.7 390.2 L934.1 389.1 L935.4 381.2 L936.8 388.0 L938.1 380.1 L939.5 384.6 L940.4 375.6 L941.7 376.7 L942.6 364.4 L944.0 368.9 L945.3 365.5 L946.6 373.4 L948.0 372.2 L949.4 374.5 L950.7 372.2 L952.0 370.0 L952.9 354.3 L954.3 354.3 L955.2 362.1 L956.5 367.8 L957.9 368.9 L959.2 374.5 L960.6 364.4 L961.9 362.1 L963.3 366.6 L964.2 377.9 L965.5 366.6 L966.9 370.0 L968.2 380.1 L969.6 386.9 L970.9 388.0 L972.3 384.6 L973.6 385.7 L975.0 382.4 L976.3 380.1 L977.2 366.6 L978.6 374.5 L979.9 373.4 L980.8 377.9 L981.9 363.3 L983.1 382.4 L984.4 395.4 L985.8 397.7 L986.6 393.2 L987.5 403.3 L988.9 406.7 L990.7 406.7 L992.0 402.2 L993.4 389.1 L994.7 382.4 L996.1 380.1 L997.4 377.9 L998.8 380.1 L1000.1 376.7 L1001.5 379.0 L1002.8 374.5 L1004.2 380.1 L1005.5 377.9 L1006.9 384.6 L1008.2 386.9 L1009.6 385.7 L1010.9 389.1 L1012.3 391.4 L1013.6 391.4 L1015.0 375.6 L1016.3 380.1 L1017.7 386.9 L1019.0 385.7 L1020.4 377.9 L1021.3 372.2 L1022.6 374.5 L1024.0 373.4 L1025.3 374.5 L1026.7 371.1 L1028.0 366.6 L1029.3 379.0 L1030.7 364.4 L1031.6 364.4"/>
</g>
<text x="23" y="578.8" font-size="12" letter-spacing="0.23" fill="#848484">© 2024 Glassnode. All Rights Reserved.</text>
<g fill="none" stroke="#000" stroke-width="2.55" stroke-linecap="butt" stroke-linejoin="round">
<circle cx="938.4" cy="574" r="5.4"/>
<path d="M943.9 567.6 V580.2 A5.4 4.4 0 0 1 934.1 582.7"/>
<path d="M949.05 562.5 V580.3"/>
<circle cx="958.9" cy="574" r="5.4"/>
<path d="M964.5 567.6 V580.3"/>
<path id="gs" d="M975.52 570.90 C974.98 569.40 973.70 568.60 972.20 568.60 C970.27 568.60 969.10 569.70 969.10 571.20 C969.10 572.80 970.49 573.50 972.41 574.00 C974.55 574.60 975.84 575.30 975.84 576.90 C975.84 578.40 974.34 579.40 972.31 579.40 C970.38 579.40 968.99 578.50 968.56 577.00"/>
<path transform="translate(10.65 0)" d="M975.52 570.90 C974.98 569.40 973.70 568.60 972.20 568.60 C970.27 568.60 969.10 569.70 969.10 571.20 C969.10 572.80 970.49 573.50 972.41 574.00 C974.55 574.60 975.84 575.30 975.84 576.90 C975.84 578.40 974.34 579.40 972.31 579.40 C970.38 579.40 968.99 578.50 968.56 577.00"/>
<path d="M990.9 567.9 V580.3 M990.9 573 A4.4 4.4 0 0 1 999.7 573 V580.3"/>
<circle cx="1009.5" cy="574" r="5.4"/>
<circle cx="1024" cy="574" r="5.4"/>
<path d="M1029.4 562.8 V580.3"/>
<path d="M1033.5 574 H1044.3 A5.4 5.4 0 1 0 1043.0 577.5"/>
</g>

</svg>
</body></html>
